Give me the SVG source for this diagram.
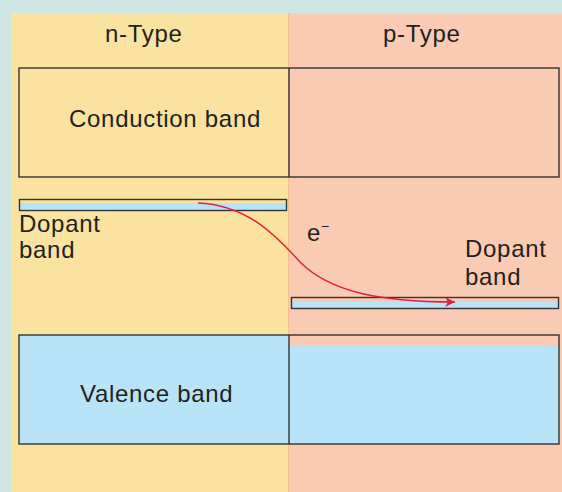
<svg xmlns="http://www.w3.org/2000/svg" width="562" height="492" viewBox="0 0 562 492">
<style>
text{font-family:"Liberation Sans",Arial,sans-serif;font-size:24px;letter-spacing:0.7px;fill:#231f20}
.box{fill:none;stroke:#333;stroke-width:1.4}
.blue{fill:#b9e4f8}
</style>
<defs>
<marker id="ah" viewBox="0 0 10 10" refX="10" refY="5" markerWidth="20" markerHeight="10" markerUnits="userSpaceOnUse" orient="auto">
<path d="M0,0 L10,5 L0,10 L3,5 Z" fill="#e41e3c"/>
</marker>
</defs>
<rect x="0" y="0" width="562" height="492" fill="#cde6e3"/>
<rect id="n-panel" x="11" y="13" width="277" height="479" fill="#fae3a1"/>
<rect id="p-panel" x="288" y="13" width="274" height="479" fill="#facbb3"/>
<line x1="288.5" y1="13" x2="288.5" y2="492" stroke="#f6c08c" stroke-width="1"/>
<g id="labels">
<text x="105" y="42">n-Type</text>
<text x="383" y="42">p-Type</text>
</g>
<g id="conduction-band">
<rect class="box" x="19" y="68" width="540" height="109"/>
<line x1="289" y1="68" x2="289" y2="177" stroke="#333" stroke-width="1.4"/>
<text x="69" y="127">Conduction band</text>
</g>
<g id="n-dopant-band">
<rect class="blue" x="19" y="203" width="268" height="8"/>
<rect class="box" x="19.5" y="199.5" width="267" height="11"/>
<text x="19" y="232">Dopant</text>
<text x="19" y="258">band</text>
</g>
<g id="p-dopant-band">
<rect class="blue" x="291" y="302" width="268" height="7"/>
<rect class="box" x="291.5" y="297.5" width="267" height="11"/>
<text x="465" y="257">Dopant</text>
<text x="465" y="285">band</text>
</g>
<g id="valence-band">
<rect class="blue" x="19" y="335" width="270" height="109"/>
<rect class="blue" x="289" y="346" width="270" height="98"/>
<rect class="box" x="19" y="335" width="540" height="109"/>
<line x1="289" y1="335" x2="289" y2="444" stroke="#333" stroke-width="1.4"/>
<text x="80" y="402">Valence band</text>
</g>
<g id="connectors">
<path d="M198,203 C250,205 280,240 300,262 C330,292 380,302 455,302" fill="none" stroke="#e41e3c" stroke-width="1.4" marker-end="url(#ah)"/>
<text x="307" y="241">e<tspan font-size="14" dy="-10">−</tspan></text>
</g>
</svg>
